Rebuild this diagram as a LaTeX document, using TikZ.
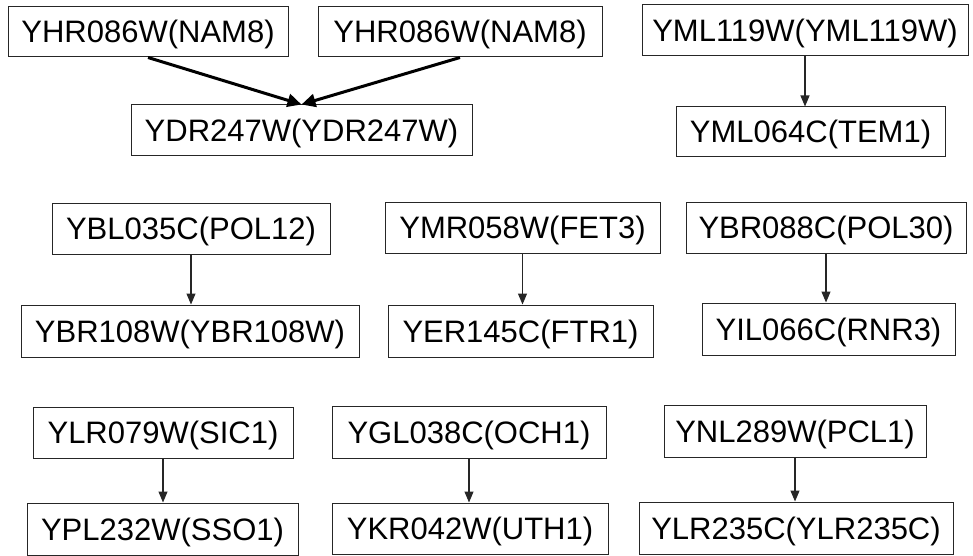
\documentclass[tikz,border=0pt]{standalone}
\usepackage{fontspec}
\setmainfont{Liberation Sans}
\usetikzlibrary{arrows.meta}
\begin{document}
\begin{tikzpicture}[x=1pt,y=-1pt,
  gene/.style={draw=black!85, line width=1pt, inner sep=0pt, text height=22pt, text depth=0pt,
    font=\fontsize{31}{37}\selectfont},
  thin/.style={draw=black!85, line width=1.1pt, -{Triangle[length=11pt,width=9pt]}},
  thick/.style={draw=black, line width=3pt, -{Triangle[length=14pt,width=13pt]}}]
\useasboundingbox (0,0) rectangle (973,556);
\newcommand{\gbox}[6]{\node[gene, minimum width={#4-#2}, minimum height={#5-#3}] (#1) at ({(#2+#4)/2},{(#3+#5)/2}) {#6};}
\gbox{a1}{8}{7}{288}{57}{YHR086W(NAM8)}
\gbox{a2}{318}{7}{602}{57}{YHR086W(NAM8)}
\gbox{a3}{131}{105}{472}{156}{YDR247W(YDR247W)}
\gbox{b1}{642}{5}{968}{56}{YML119W(YML119W)}
\gbox{b2}{676}{107}{945}{157}{YML064C(TEM1)}
\gbox{c1}{52}{203}{330}{254}{YBL035C(POL12)}
\gbox{c2}{21}{305}{359}{357}{YBR108W(YBR108W)}
\gbox{d1}{385}{202}{660}{253}{YMR058W(FET3)}
\gbox{d2}{388}{305}{653}{357}{YER145C(FTR1)}
\gbox{e1}{686}{202}{966}{253}{YBR088C(POL30)}
\gbox{e2}{702}{303}{955}{355}{YIL066C(RNR3)}
\gbox{f1}{33}{407}{293}{458}{YLR079W(SIC1)}
\gbox{f2}{27}{503}{298}{555}{YPL232W(SSO1)}
\gbox{g1}{332}{406}{606}{458}{YGL038C(OCH1)}
\gbox{g2}{332}{503}{608}{554}{YKR042W(UTH1)}
\gbox{h1}{664}{405}{926}{457}{YNL289W(PCL1)}
\gbox{h2}{639}{502}{953}{554}{YLR235C(YLR235C)}
\draw[thick] (a1.south) -- (a3.north);
\draw[thick] (a2.south) -- (a3.north);
\foreach \u/\v in {b1/b2,c1/c2,d1/d2,e1/e2,f1/f2,g1/g2,h1/h2}
  \draw[thin] (\u.south) -- (\u.south |- \v.north);
\end{tikzpicture}
\end{document}
